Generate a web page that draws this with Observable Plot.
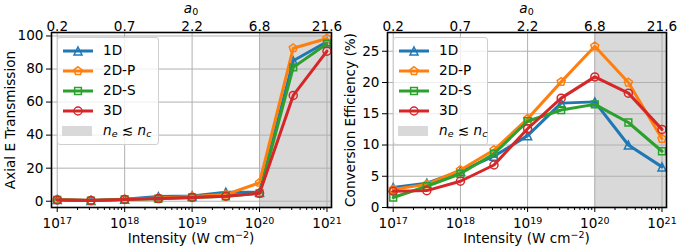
<!DOCTYPE html>
<html><head><meta charset="utf-8">
<script src="https://cdn.jsdelivr.net/npm/d3@7"></script>
<script src="https://cdn.jsdelivr.net/npm/@observablehq/plot@0.6"></script>
<style>
body{margin:0;background:#fff;}
#wrap{position:relative;width:680px;height:250px;overflow:hidden;font-family:"DejaVu Sans",sans-serif;color:#000;}
.panel{position:absolute;top:0;}
.lbl{position:absolute;font-size:13.6px;white-space:nowrap;line-height:1;}
.sup{font-size:70%;vertical-align:0.5em;}
.sub{font-size:70%;vertical-align:-0.25em;}
.legend{position:absolute;box-sizing:border-box;border:1px solid #cfcfcf;border-radius:3px;background:rgba(255,255,255,0.8);}
.entry{position:absolute;font-size:13.6px;line-height:1;white-space:nowrap;}
</style></head><body><div id="wrap"></div>
<script>
// ---------- data ----------
const intensity = [1e17, 3.16e17, 1e18, 3.16e18, 1e19, 3.16e19, 1e20, 3.16e20, 1e21];
const seriesNames = ["1D", "2D-P", "2D-S", "3D"];
const seriesColors = ["#1f77b4", "#ff7f0e", "#2ca02c", "#d62728"];

const transmission1D  = [1.0, 0.5, 1.2, 2.8, 3.2, 5.5, 5.5, 85.0, 96.5];
const transmission2DP = [1.0, 0.5, 1.2, 2.0, 2.8, 4.0, 11.2, 92.6, 98.5];
const transmission2DS = [0.8, 0.4, 1.1, 1.5, 2.3, 3.0, 4.8, 81.0, 95.3];
const transmission3D  = [0.8, 0.4, 1.1, 1.6, 2.3, 3.0, 4.8, 64.0, 90.8];

const efficiency1D  = [3.2, 3.9, 5.8, 8.2, 11.5, 16.7, 16.9, 10.0, 6.5];
const efficiency2DP = [2.9, 3.7, 6.0, 9.2, 14.2, 20.1, 25.8, 20.0, 11.0];
const efficiency2DS = [1.6, 3.4, 5.4, 8.6, 13.8, 15.6, 16.5, 13.6, 9.0];
const efficiency3D  = [2.6, 2.7, 4.2, 6.8, 12.6, 17.5, 20.9, 18.3, 12.5];

const decadeTicks = [1e17, 1e18, 1e19, 1e20, 1e21];
const decadeExponents = ["17", "18", "19", "20", "21"];
const a0Labels = ["0.2", "0.7", "2.2", "6.8", "21.6"];
const transmissionTicks = [0, 20, 40, 60, 80, 100];
const efficiencyTicks = [0, 5, 10, 15, 20, 25];
const criticalIntensity = 1e20;

// ---------- symbols (matplotlib-like) ----------
const triangleSym = {draw(c, size){const r=Math.sqrt(size/Math.PI); c.moveTo(0,-r); c.lineTo(r,r); c.lineTo(-r,r); c.closePath();}};
const squareSym = {draw(c, size){const r=Math.sqrt(size/Math.PI)*0.85; c.moveTo(-r,-r); c.lineTo(r,-r); c.lineTo(r,r); c.lineTo(-r,r); c.closePath();}};
const pentagonSym = {draw(c, size){const r=Math.sqrt(size/Math.PI)*1.05; for(let k=0;k<5;k++){const a=-Math.PI/2+k*2*Math.PI/5; const x=r*Math.cos(a), y=r*Math.sin(a); if(k===0) c.moveTo(x,y); else c.lineTo(x,y);} c.closePath();}};
const circleSym = {draw(c, size){const r=Math.sqrt(size/Math.PI); c.moveTo(r,0); c.arc(0,0,r,0,2*Math.PI);}};
const seriesSymbols = [triangleSym, pentagonSym, squareSym, circleSym];

const xDomain = [10**16.915, 10**21.067];
const minorTicks = [];
for (const d of [1e17,1e18,1e19,1e20]) for (let m=2;m<=9;m++) minorTicks.push(d*m);

const wrap = document.getElementById("wrap");
const FS = 13.6;

function makePanel({left, width, marginLeft, marginRight, yDomain, yTicks, series}) {
  const marks = [
    Plot.rect([criticalIntensity], {x1: d => d, x2: xDomain[1], y1: yDomain[0], y2: yDomain[1], fill: "#d9d9d9"}),
    Plot.gridX(decadeTicks, {stroke: "#b0b0b0", strokeOpacity: 1, strokeWidth: 1}),
    Plot.gridY(yTicks, {stroke: "#b0b0b0", strokeOpacity: 1, strokeWidth: 1}),
  ];
  series.forEach((vals, i) => {
    const data = intensity.map((x, j) => ({x, y: vals[j]}));
    marks.push(Plot.line(data, {x: "x", y: "y", stroke: seriesColors[i], strokeWidth: 3}));
    marks.push(Plot.dot(data, {x: "x", y: "y", symbol: seriesSymbols[i], r: 4, stroke: seriesColors[i], strokeWidth: 1.5, fill: "none"}));
  });
  marks.push(
    Plot.frame({stroke: "black", strokeWidth: 1.6}),
    Plot.axisX(minorTicks, {anchor: "bottom", tickSize: 3, tickFormat: () => "", label: null}),
    Plot.axisX(decadeTicks, {anchor: "bottom", tickSize: 5, tickPadding: 6, fontSize: FS, tickFormat: d => "10" + decadeExponents[decadeTicks.indexOf(d)], label: null}),
    Plot.axisX(decadeTicks, {anchor: "top", tickSize: 0, tickPadding: 1.5, fontSize: FS, tickFormat: d => a0Labels[decadeTicks.indexOf(d)], label: null}),
    Plot.axisY(yTicks, {anchor: "left", tickSize: 5, tickPadding: 3, fontSize: FS, label: null})
  );
  const svg = Plot.plot({
    width, height: 250,
    marginLeft, marginRight, marginTop: 32, marginBottom: 43,
    style: {fontFamily: "DejaVu Sans, sans-serif", color: "black", background: "transparent", overflow: "visible"},
    x: {type: "log", domain: xDomain},
    y: {domain: yDomain},
    marks
  });
  // mathtext-like superscripts on decade labels
  svg.querySelectorAll("text").forEach(t => {
    const m = /^10(\d\d)$/.exec(t.textContent);
    if (m) {
      t.textContent = "";
      const a = document.createElementNS("http://www.w3.org/2000/svg", "tspan"); a.textContent = "10";
      const b = document.createElementNS("http://www.w3.org/2000/svg", "tspan"); b.textContent = m[1];
      b.setAttribute("dy", "-0.42em"); b.setAttribute("font-size", "70%");
      t.appendChild(a); t.appendChild(b);
    }
  });
  const div = document.createElement("div");
  div.className = "panel"; div.style.left = left + "px";
  div.appendChild(svg);
  wrap.appendChild(div);
}

makePanel({left: 0, width: 340, marginLeft: 51, marginRight: 9, yDomain: [-3.8, 102.1], yTicks: transmissionTicks,
  series: [transmission1D, transmission2DP, transmission2DS, transmission3D]});
makePanel({left: 340, width: 340, marginLeft: 47, marginRight: 14, yDomain: [0, 28], yTicks: efficiencyTicks,
  series: [efficiency1D, efficiency2DP, efficiency2DS, efficiency3D]});

// ---------- labels ----------
function addLabel(html, cx, cy, rotate) {
  const d = document.createElement("div");
  d.className = "lbl"; d.innerHTML = html;
  d.style.left = cx + "px"; d.style.top = cy + "px";
  d.style.transform = "translate(-50%,-50%)" + (rotate ? " rotate(-90deg)" : "");
  wrap.appendChild(d);
}
addLabel("Axial E Transmission", 11, 119.5, true);
addLabel("Conversion Efficiency (%)", 351, 119.5, true);
addLabel('Intensity (W cm<span class="sup">−2</span>)', 191, 238, false);
addLabel('Intensity (W cm<span class="sup">−2</span>)', 526.5, 238, false);
addLabel('<i>a</i><span class="sub">0</span>', 191, 9, false);
addLabel('<i>a</i><span class="sub">0</span>', 526.5, 9, false);

// ---------- legends ----------
function addLegend(x0, x1, y0, y1) {
  const box = document.createElement("div");
  box.className = "legend";
  box.style.left = x0 + "px"; box.style.top = y0 + "px";
  box.style.width = (x1 - x0) + "px"; box.style.height = (y1 - y0) + "px";
  wrap.appendChild(box);
  const rowH = 20.2, firstY = 49.5 - y0;
  seriesNames.forEach((name, i) => {
    const cy = firstY + i * rowH;
    const svg = d3.create("svg").attr("width", 36).attr("height", 14)
      .style("position", "absolute").style("left", "3px").style("top", (cy - 7) + "px");
    svg.append("line").attr("x1", 2).attr("x2", 32).attr("y1", 7).attr("y2", 7)
      .attr("stroke", seriesColors[i]).attr("stroke-width", 3);
    const p = d3.path(); seriesSymbols[i].draw(p, Math.PI * 16);
    svg.append("path").attr("d", p.toString()).attr("transform", "translate(17,7)")
      .attr("fill", "none").attr("stroke", seriesColors[i]).attr("stroke-width", 1.5);
    box.appendChild(svg.node());
    const t = document.createElement("div");
    t.className = "entry"; t.textContent = name;
    t.style.left = "45px"; t.style.top = (cy - 7) + "px";
    box.appendChild(t);
  });
  const cy = firstY + 4 * rowH;
  const sw = document.createElement("div");
  sw.style.cssText = `position:absolute;left:4px;top:${cy-5}px;width:30px;height:10px;background:#d9d9d9;`;
  box.appendChild(sw);
  const t = document.createElement("div");
  t.className = "entry";
  t.innerHTML = '<i>n</i><span class="sub"><i>e</i></span> ≲ <i>n</i><span class="sub"><i>c</i></span>';
  t.style.left = "45px"; t.style.top = (cy - 7) + "px";
  box.appendChild(t);
}
addLegend(57, 159, 37, 145);
addLegend(393, 488, 37, 145);
</script>
</body></html>
